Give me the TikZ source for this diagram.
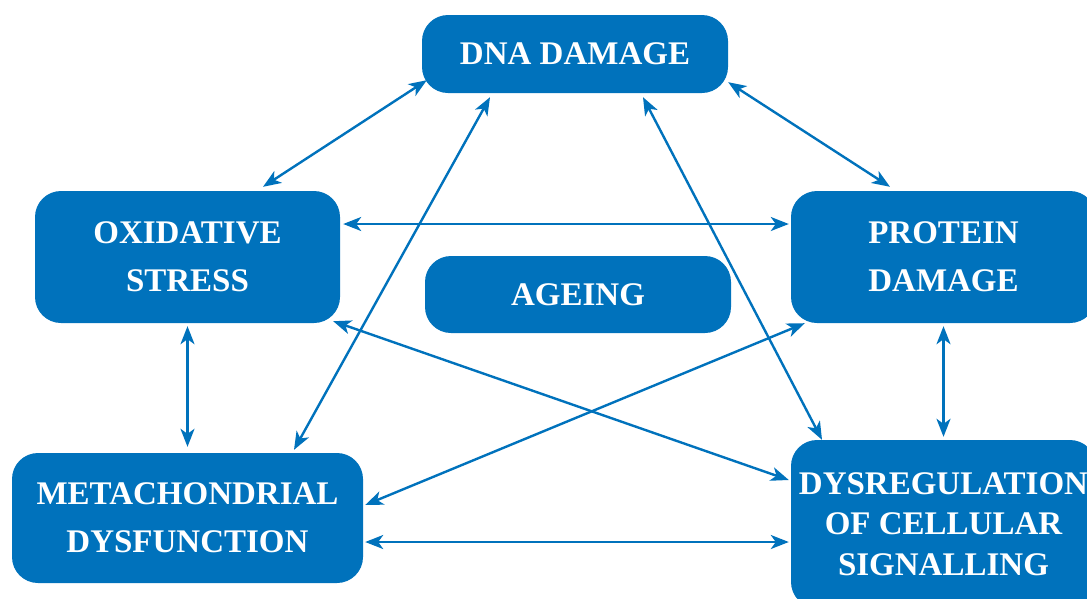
\documentclass[tikz,border=0pt]{standalone}
\usepackage{fontspec}
\setmainfont{Liberation Serif}
\usetikzlibrary{arrows.meta}
\definecolor{ageblue}{RGB}{0,114,188}
\begin{document}
\begin{tikzpicture} [x = 1pt, y = -1pt,
	box/.style = {fill = ageblue, text = white, rounded corners = 26pt, align = center, inner sep = 0pt,
		font = \fontsize{33}{48}\selectfont\bfseries},
	link/.style = {ageblue, line width = 2.4pt, {Stealth[length=18pt,width=14pt,inset=5pt]}-{Stealth[length=18pt,width=14pt,inset=5pt]}}]
	\useasboundingbox (0,0) rectangle (1087,598);
	\clip (0,0) rectangle (1087,598);
	\node [box, minimum width = 306pt, minimum height = 78pt] (dna) at (575,54) {DNA DAMAGE};
	\node [box, minimum width = 305pt, minimum height = 132pt] (ox) at (187.5,257) {OXIDATIVE\\STRESS};
	\node [box, minimum width = 306pt, minimum height = 77pt] (age) at (578,294.5) {AGEING};
	\node [box, minimum width = 305pt, minimum height = 132pt] (prot) at (943.5,257) {PROTEIN\\DAMAGE};
	\node [box, minimum width = 351pt, minimum height = 130pt] (meta) at (187.5,518) {METACHONDRIAL\\DYSFUNCTION};
	\node [box, minimum width = 305pt, minimum height = 168pt, font = \fontsize{33}{40.5}\selectfont\bfseries] (dys) at (943.5,524) {DYSREGULATION\\OF CELLULAR\\SIGNALLING};
	% links round the outside
	\draw [link] ([xshift=5pt,yshift=13pt]dna.south west) -- ([xshift=75.5pt,yshift=4pt]ox.north);
	\draw [link] ([yshift=11pt]dna.south east) -- ([xshift=-53.5pt,yshift=4pt]prot.north);
	\draw [link] ([xshift=3pt,yshift=33pt]ox.east) -- ([xshift=-2pt,yshift=33pt]prot.west);
	\draw [link] ([yshift=-3pt]ox.south) -- ([yshift=6pt]meta.north);
	\draw [link] ([yshift=-3pt]prot.south) -- ([yshift=3pt]dys.north);
	\draw [link] ([xshift=2pt,yshift=-24pt]meta.east) -- ([xshift=-2pt,yshift=-18pt]dys.west);
	% crossing links
	\draw [link] ([xshift=-85pt,yshift=-4pt]dna.south) -- ([xshift=106.5pt,yshift=3pt]meta.north);
	\draw [link] ([xshift=68pt,yshift=-4pt]dna.south) -- ([xshift=-121.5pt]dys.north);
	\draw [link] ([xshift=-7pt,yshift=2pt]ox.south east) -- ([xshift=-2pt,yshift=44pt]dys.west);
	\draw [link] ([xshift=14pt]prot.south west) -- ([xshift=2pt,yshift=13pt]meta.east);
\end{tikzpicture}
\end{document}
